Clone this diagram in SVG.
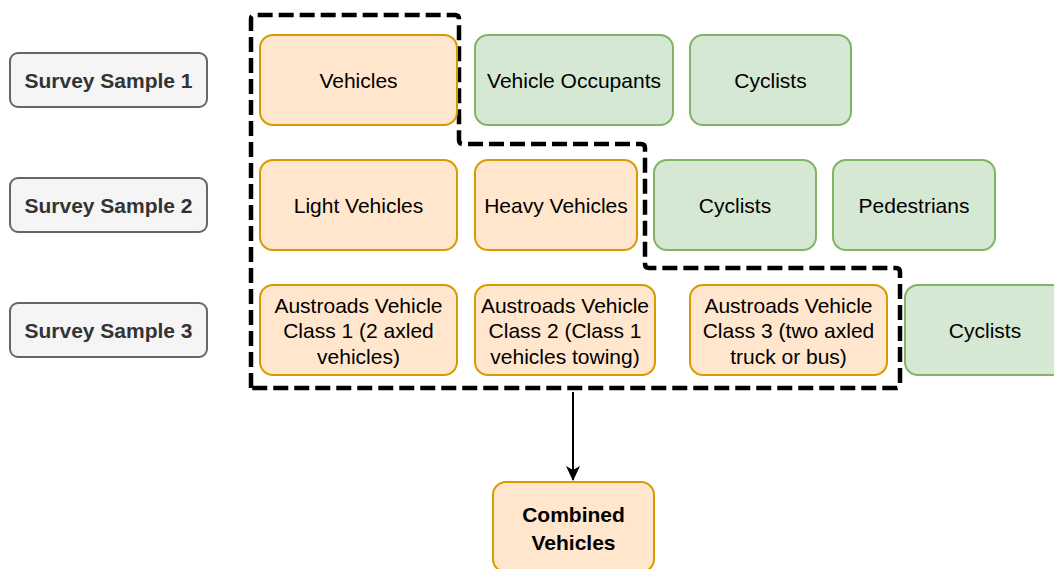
<svg xmlns="http://www.w3.org/2000/svg" width="1054" height="569" viewBox="0 0 1054 569">
<style>
.s{fill:#f5f5f5;stroke:#666666;stroke-width:2}
.o{fill:#ffe6cc;stroke:#d79b00;stroke-width:2}
.g{fill:#d5e8d4;stroke:#82b366;stroke-width:2}
text{font-family:"Liberation Sans",Arial,sans-serif;font-size:21px;text-anchor:middle;fill:#000}
.st{font-weight:bold;fill:#333333}
.b{font-weight:bold}
.c{fill:none;stroke:#000;stroke-width:2}
.d{fill:none;stroke:#000;stroke-width:4.5;stroke-dasharray:15 6}
</style>
<defs>
<marker id="ah" markerWidth="16" markerHeight="16" refX="14" refY="8" orient="auto" markerUnits="userSpaceOnUse">
<path d="M0,1 L15,8 L0,15 L4,8 Z" fill="#000"/>
</marker>
</defs>
<g id="connectors">
<path class="d" d="M251,388 L251,19 Q251,15 255,15 L455,15 Q459,15 459,19 L459,140 Q459,144 463,144 L641,144 Q645,144 645,148 L645,264 Q645,268 649,268 L896,268 Q900,268 900,272 L900,384 Q900,388 896,388 Z"/>
<path class="c" d="M573,392 L573,480" marker-end="url(#ah)"/>
</g>
<g id="ss1"><rect class="s" x="10" y="53" width="197" height="54" rx="8"/><text class="st" x="108.5" y="87.5">Survey Sample 1</text></g>
<g id="ss2"><rect class="s" x="10" y="178" width="197" height="54" rx="8"/><text class="st" x="108.5" y="212.5">Survey Sample 2</text></g>
<g id="ss3"><rect class="s" x="10" y="303" width="197" height="54" rx="8"/><text class="st" x="108.5" y="337.5">Survey Sample 3</text></g>
<g id="vehicles"><rect class="o" x="260" y="35" width="197" height="90" rx="13"/><text x="358.5" y="87.5">Vehicles</text></g>
<g id="occupants"><rect class="g" x="475" y="35" width="198" height="90" rx="13"/><text x="574" y="87.5">Vehicle Occupants</text></g>
<g id="cyclists1"><rect class="g" x="690" y="35" width="161" height="90" rx="13"/><text x="770.5" y="87.5">Cyclists</text></g>
<g id="light"><rect class="o" x="260" y="160" width="197" height="90" rx="13"/><text x="358.5" y="212.5">Light Vehicles</text></g>
<g id="heavy"><rect class="o" x="475" y="160" width="162" height="90" rx="13"/><text x="556" y="212.5">Heavy Vehicles</text></g>
<g id="cyclists2"><rect class="g" x="654" y="160" width="162" height="90" rx="13"/><text x="735" y="212.5">Cyclists</text></g>
<g id="pedestrians"><rect class="g" x="833" y="160" width="162" height="90" rx="13"/><text x="914" y="212.5">Pedestrians</text></g>
<g id="class1"><rect class="o" x="260" y="285" width="197" height="90" rx="13"/><text x="358.5" y="312.5">Austroads Vehicle</text><text x="358.5" y="338">Class 1 (2 axled</text><text x="358.5" y="363.5">vehicles)</text></g>
<g id="class2"><rect class="o" x="475" y="285" width="180" height="90" rx="13"/><text x="565" y="312.5">Austroads Vehicle</text><text x="565" y="338">Class 2 (Class 1</text><text x="565" y="363.5">vehicles towing)</text></g>
<g id="class3"><rect class="o" x="690" y="285" width="197" height="90" rx="13"/><text x="788.5" y="312.5">Austroads Vehicle</text><text x="788.5" y="338">Class 3 (two axled</text><text x="788.5" y="363.5">truck or bus)</text></g>
<g id="cyclists3"><rect class="g" x="905" y="285" width="160" height="90" rx="13"/><text x="985" y="338">Cyclists</text></g>
<g id="combined"><rect class="o" x="493" y="482" width="161" height="90" rx="13"/><text class="b" x="573.5" y="522">Combined</text><text class="b" x="573.5" y="550">Vehicles</text></g>
</svg>
